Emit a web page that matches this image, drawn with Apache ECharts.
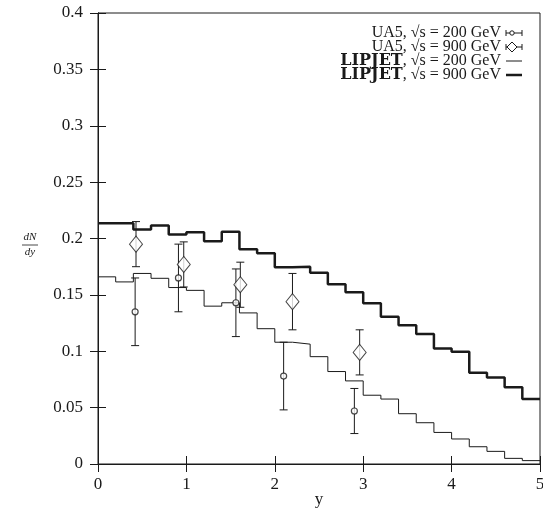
<!DOCTYPE html>
<html>
<head>
<meta charset="utf-8">
<script src="https://cdn.jsdelivr.net/npm/echarts@6/dist/echarts.min.js"></script>
<style>
  html, body { margin: 0; padding: 0; background: #fff; }
  #chart { width: 543px; height: 508px; }
</style>
</head>
<body>
<div id="chart"></div>
<script>
// bin edges of the LIPJET histograms (rapidity y)
const binEdges = [0, 0.2, 0.4, 0.6, 0.8, 1.0, 1.2, 1.4, 1.6, 1.8, 2.0, 2.2, 2.4, 2.6, 2.8,
  3.0, 3.2, 3.4, 3.6, 3.8, 4.0, 4.2, 4.4, 4.6, 4.8, 5.0];

// LIPJET dN/dy per bin
const lipjet200 = [0.166, 0.1615, 0.169, 0.1647, 0.1565, 0.154, 0.140, 0.143, 0.134, 0.120,
  0.108, 0.1063, 0.0952, 0.082, 0.0737, 0.061, 0.0576, 0.0446, 0.0366, 0.028,
  0.0222, 0.0153, 0.0112, 0.005, 0.003];
const lipjet900 = [0.2135, 0.2135, 0.208, 0.2115, 0.2035, 0.2055, 0.1975, 0.206, 0.1905, 0.187,
  0.1745, 0.175, 0.1697, 0.1594, 0.1523, 0.1425, 0.1307, 0.123, 0.1153, 0.1025,
  0.0996, 0.081, 0.0767, 0.068, 0.0576];

// UA5 data points
const ua5_200_y = [0.42, 0.91, 1.56, 2.10, 2.90];
const ua5_200_val = [0.135, 0.165, 0.143, 0.078, 0.047];
const ua5_200_err = [0.03, 0.03, 0.03, 0.03, 0.02];
const ua5_900_y = [0.43, 0.97, 1.61, 2.20, 2.96];
const ua5_900_val = [0.195, 0.177, 0.159, 0.144, 0.099];
const ua5_900_err = [0.02, 0.02, 0.02, 0.025, 0.02];

const xTicks = [0, 1, 2, 3, 4, 5];
const yTicks = [0, 0.05, 0.1, 0.15, 0.2, 0.25, 0.3, 0.35, 0.4];

const font = "'Liberation Serif', 'DejaVu Serif', serif";
const ink = "#1a1a1a";

const myChart = echarts.init(document.getElementById("chart"));

function histData(vals) {
  return binEdges.map((e, i) => [e, vals[Math.min(i, vals.length - 1)]]);
}

function errData(xs, vals, errs) {
  return xs.map((x, i) => [x, vals[i] - errs[i], vals[i] + errs[i]]);
}

function renderErr(params, api) {
  const x = api.value(0);
  const lo = api.coord([x, api.value(1)]);
  const hi = api.coord([x, api.value(2)]);
  const cap = 4;
  const st = { stroke: ink, lineWidth: 1 };
  return {
    type: "group",
    children: [
      { type: "line", shape: { x1: lo[0], y1: lo[1], x2: hi[0], y2: hi[1] }, style: st },
      { type: "line", shape: { x1: lo[0] - cap, y1: lo[1], x2: lo[0] + cap, y2: lo[1] }, style: st },
      { type: "line", shape: { x1: hi[0] - cap, y1: hi[1], x2: hi[0] + cap, y2: hi[1] }, style: st },
    ],
  };
}

function makeAxis(extra) {
  return Object.assign({
    type: "value",
    axisLine: { show: true, lineStyle: { color: ink, width: 1 } },
    axisTick: { show: true, inside: true, length: 8, lineStyle: { color: ink, width: 1 } },
    splitLine: { show: false },
  }, extra);
}

// legend drawn by hand (text right aligned, symbol to the right)
const legendRows = [
  { label: "UA5, √s = 200 GeV", bold: false, sym: "circle" },
  { label: "UA5, √s = 900 GeV", bold: false, sym: "diamond" },
  { label: "LIPJET, √s = 200 GeV", bold: true, sym: "thin" },
  { label: "LIPJET, √s = 900 GeV", bold: true, sym: "thick" },
];

const legendGraphics = [];
legendRows.forEach((row, i) => {
  const cy = 33 + i * 14;
  const txt = row.bold ? "{b|LIPJET}" + row.label.slice(6) : row.label;
  legendGraphics.push({
    type: "text",
    x: 501, y: cy,
    style: {
      text: txt,
      font: "16px " + font,
      fill: ink,
      align: "right",
      verticalAlign: "middle",
      rich: { b: { fontWeight: "bold", fontSize: 16, fontFamily: "'DejaVu Serif', serif" } },
    },
  });
  const x1 = 506, x2 = 522;
  if (row.sym === "circle" || row.sym === "diamond") {
    legendGraphics.push({ type: "line", shape: { x1: x1, y1: cy, x2: x2, y2: cy }, style: { stroke: ink, lineWidth: 1 } });
    legendGraphics.push({ type: "line", shape: { x1: x1, y1: cy - 3, x2: x1, y2: cy + 3 }, style: { stroke: ink, lineWidth: 1 } });
    legendGraphics.push({ type: "line", shape: { x1: x2, y1: cy - 3, x2: x2, y2: cy + 3 }, style: { stroke: ink, lineWidth: 1 } });
    if (row.sym === "circle") {
      legendGraphics.push({ type: "circle", shape: { cx: (x1 + x2) / 2 - 2, cy: cy, r: 2.2 }, style: { stroke: ink, fill: "#fff", lineWidth: 1 } });
    } else {
      const mx = (x1 + x2) / 2 - 2;
      legendGraphics.push({ type: "polygon", shape: { points: [[mx - 5, cy], [mx, cy - 5], [mx + 5, cy], [mx, cy + 5]] }, style: { stroke: ink, fill: "#fff", lineWidth: 1 } });
    }
  } else {
    legendGraphics.push({ type: "line", shape: { x1: x1, y1: cy, x2: x2, y2: cy }, style: { stroke: ink, lineWidth: row.sym === "thick" ? 2.5 : 1 } });
  }
});

// y-axis name as a fraction dN/dy
const yNameGraphics = [
  { type: "text", x: 30, y: 243, style: { text: "dN", font: "italic 11px " + font, fill: ink, align: "center", verticalAlign: "bottom" } },
  { type: "line", shape: { x1: 22, y1: 245, x2: 38, y2: 245 }, style: { stroke: ink, lineWidth: 0.8 } },
  { type: "text", x: 30, y: 247, style: { text: "dy", font: "italic 11px " + font, fill: ink, align: "center", verticalAlign: "top" } },
];

const option = {
  backgroundColor: "#fff",
  animation: false,
  grid: {
    left: 98, right: 3, top: 13, bottom: 44,
    outerBoundsMode: "none",
    containLabel: false,
    show: true, borderColor: ink, borderWidth: 1,
  },
  textStyle: { fontFamily: font },
  xAxis: [
    makeAxis({
      position: "bottom",
      min: xTicks[0], max: xTicks[xTicks.length - 1], interval: 1,
      name: "y",
      nameLocation: "middle",
      nameGap: 27,
      nameMoveOverlap: false,
      nameTextStyle: { fontFamily: font, fontSize: 17, color: ink },
      axisLabel: { fontFamily: font, fontSize: 17, color: ink, margin: 12 },
    }),
    makeAxis({
      position: "top",
      min: xTicks[0], max: xTicks[xTicks.length - 1], interval: 1,
      axisLabel: { show: false },
    }),
  ],
  yAxis: [
    makeAxis({
      position: "left",
      min: yTicks[0], max: yTicks[yTicks.length - 1], interval: 0.05,
      axisLabel: { fontFamily: font, fontSize: 17, color: ink, margin: 15 },
    }),
    makeAxis({
      position: "right",
      min: yTicks[0], max: yTicks[yTicks.length - 1], interval: 0.05,
      axisLabel: { show: false },
    }),
  ],
  graphic: legendGraphics.concat(yNameGraphics),
  series: [
    {
      name: "LIPJET 200",
      type: "line",
      step: "end",
      showSymbol: false,
      data: histData(lipjet200),
      lineStyle: { color: ink, width: 1 },
    },
    {
      name: "LIPJET 900",
      type: "line",
      step: "end",
      showSymbol: false,
      data: histData(lipjet900),
      lineStyle: { color: ink, width: 2.5 },
    },
    {
      name: "UA5 200 err",
      type: "custom",
      renderItem: renderErr,
      data: errData(ua5_200_y, ua5_200_val, ua5_200_err),
      encode: { x: 0, y: [1, 2] },
      z: 3,
    },
    {
      name: "UA5 900 err",
      type: "custom",
      renderItem: renderErr,
      data: errData(ua5_900_y, ua5_900_val, ua5_900_err),
      encode: { x: 0, y: [1, 2] },
      z: 3,
    },
    {
      name: "UA5 200",
      type: "scatter",
      symbol: "circle",
      symbolSize: 6,
      data: ua5_200_y.map((x, i) => [x, ua5_200_val[i]]),
      itemStyle: { color: "#fff", borderColor: ink, borderWidth: 1.2 },
      z: 4,
    },
    {
      name: "UA5 900",
      type: "scatter",
      symbol: "diamond",
      symbolSize: [13, 16],
      data: ua5_900_y.map((x, i) => [x, ua5_900_val[i]]),
      itemStyle: { color: "#fff", borderColor: ink, borderWidth: 1 },
      z: 4,
    },
  ],
};

myChart.setOption(option);
</script>
</body>
</html>
